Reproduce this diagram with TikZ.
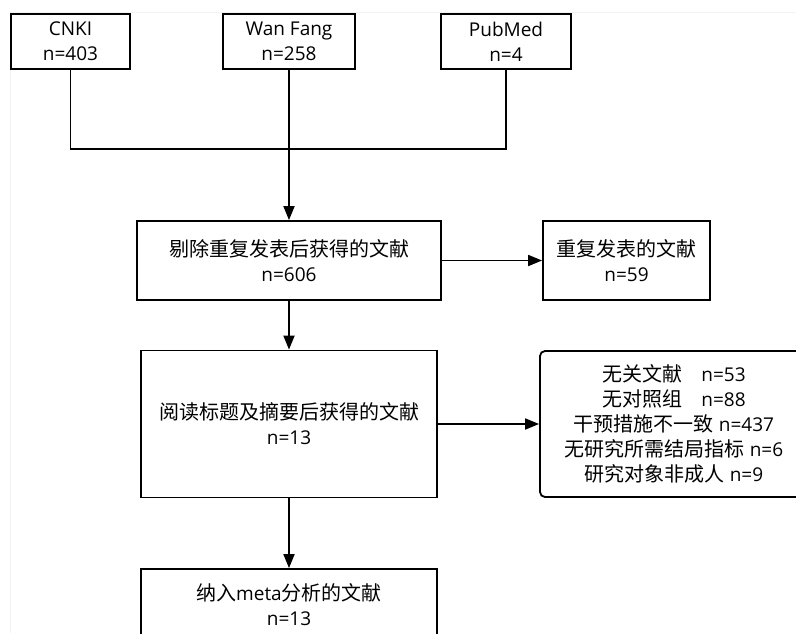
\documentclass[tikz,border=0pt]{standalone}
\usepackage{fontspec}
\setmainfont{Open Sans}
\newfontfamily\cjk{Noto Sans CJK SC}
\usetikzlibrary{arrows.meta}
\tikzset{
  box/.style={draw, line width=1.8pt, inner sep=0pt, align=center, font=\fontsize{19}{25}\selectfont},
  arr/.style={line width=1.8pt, -{Triangle[length=14pt,width=11pt]}},
  link/.style={line width=1.8pt},
}
\newcommand{\zh}[1]{{\cjk\fontsize{20}{25}\selectfont #1}}
\begin{document}
\begin{tikzpicture}[x=1pt,y=-1pt]
\useasboundingbox (0,0) rectangle (796,633);
\draw[gray!10, line width=0.8pt] (796,12) -- (10,12) -- (10,633);
\node[box, minimum width=119pt, minimum height=55pt] (cnki) at (70.5,41.5) {CNKI\\n=403};
\node[box, minimum width=132pt, minimum height=55pt] (wanfang) at (289,41.5) {Wan Fang\\n=258};
\node[box, minimum width=130pt, minimum height=55pt] (pubmed) at (506,41.5) {PubMed\\n=4};
\coordinate (join) at (289,149);
\node[box, minimum width=304pt, minimum height=79pt] (dedup) at (289,260.5) {\zh{剔除重复发表后获得的文献}\\n=606};
\node[box, minimum width=167pt, minimum height=79pt] (dup) at (626.5,260.5) {\zh{重复发表的文献}\\n=59};
\node[box, minimum width=296pt, minimum height=147pt] (screen) at (289,424) {\zh{阅读标题及摘要后获得的文献}\\n=13};
\node[box, rounded corners=5pt, minimum width=268pt, minimum height=146pt] (excl) at (674,424) {\zh{无关文献}\hspace{1em}n=53\\\zh{无对照组}\hspace{1em}n=88\\\zh{干预措施不一致} n=437\\\zh{无研究所需结局指标} n=6\\\zh{研究对象非成人} n=9};
\node[box, minimum width=296pt, minimum height=71pt] (incl) at (289,604.5) {\zh{纳入}meta\zh{分析的文献}\\n=13};
\draw[link] (cnki.south) |- (join) -| (pubmed.south);
\draw[arr] (wanfang.south) -- (dedup.north);
\draw[arr] (dedup.east) -- (dup.west);
\draw[arr] (dedup.south) -- (screen.north);
\draw[arr] (screen.east) -- (excl.west);
\draw[arr] (screen.south) -- (incl.north);
\end{tikzpicture}
\end{document}
